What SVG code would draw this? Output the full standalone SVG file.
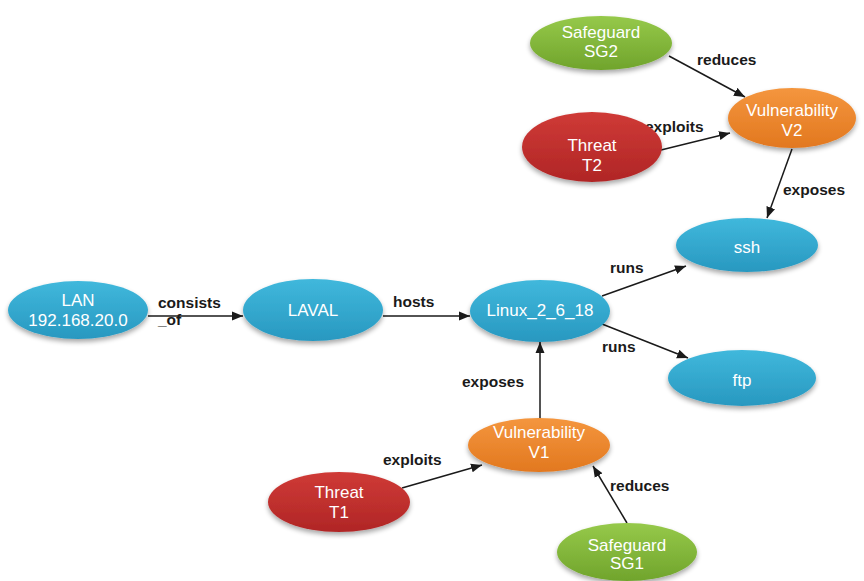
<svg xmlns="http://www.w3.org/2000/svg" width="864" height="581" viewBox="0 0 864 581">
<defs>
<linearGradient id="gBlue" x1="0" y1="0" x2="0" y2="1"><stop offset="0" stop-color="#40b8dc"/><stop offset="1" stop-color="#2898c0"/></linearGradient>
<linearGradient id="gGreen" x1="0" y1="0" x2="0" y2="1"><stop offset="0" stop-color="#96c94a"/><stop offset="1" stop-color="#70a42c"/></linearGradient>
<linearGradient id="gRed" x1="0" y1="0" x2="0" y2="1"><stop offset="0" stop-color="#cf3a36"/><stop offset="1" stop-color="#b02626"/></linearGradient>
<linearGradient id="gOrange" x1="0" y1="0" x2="0" y2="1"><stop offset="0" stop-color="#f4963e"/><stop offset="1" stop-color="#e2781f"/></linearGradient>
<filter id="sh" x="-20%" y="-20%" width="140%" height="160%"><feGaussianBlur in="SourceAlpha" stdDeviation="2.5"/><feOffset dx="0" dy="3" result="b"/><feComponentTransfer><feFuncA type="linear" slope="0.35"/></feComponentTransfer><feMerge><feMergeNode/><feMergeNode in="SourceGraphic"/></feMerge></filter>
<marker id="arr" markerUnits="userSpaceOnUse" markerWidth="12" markerHeight="10" refX="11" refY="5" orient="auto"><path d="M0,0.5 L11,5 L0,9.5 Z" fill="#1a1a1a"/></marker>
</defs>
<style>
.nt{font-family:"Liberation Sans",Arial,sans-serif;font-size:17px;fill:#ffffff;text-anchor:middle}
.lb{font-family:"Liberation Sans",Arial,sans-serif;font-size:15.5px;font-weight:bold;fill:#1a1a1a}
.ed{stroke:#1a1a1a;stroke-width:1.5;fill:none;marker-end:url(#arr)}
.blue{fill:url(#gBlue)}.green{fill:url(#gGreen)}.red{fill:url(#gRed)}.orange{fill:url(#gOrange)}
</style>
<rect width="864" height="581" fill="#ffffff"/>
<g id="connectors">
<line class="ed" x1="148" y1="316" x2="243" y2="316"/>
<line class="ed" x1="383" y1="316" x2="470" y2="316"/>
<line class="ed" x1="602" y1="296" x2="686" y2="266"/>
<line class="ed" x1="602" y1="324" x2="688" y2="358"/>
<line class="ed" x1="540" y1="419" x2="540" y2="342"/>
<line class="ed" x1="402" y1="488" x2="482" y2="465"/>
<line class="ed" x1="627" y1="523" x2="593" y2="466"/>
<line class="ed" x1="669" y1="56" x2="745" y2="97"/>
<line class="ed" x1="661" y1="150" x2="730" y2="133"/>
<line class="ed" x1="792" y1="149" x2="767" y2="218"/>
<text class="lb" x="158" y="308">consists</text>
<text class="lb" x="158" y="325">_of</text>
<text class="lb" x="393" y="307">hosts</text>
<text class="lb" x="610" y="273">runs</text>
<text class="lb" x="602" y="352">runs</text>
<text class="lb" x="462" y="387">exposes</text>
<text class="lb" x="383" y="465">exploits</text>
<text class="lb" x="610" y="491">reduces</text>
<text class="lb" x="697" y="65">reduces</text>
<text class="lb" x="645" y="132">exploits</text>
<text class="lb" x="783" y="195">exposes</text>
</g>
<g id="node-lan"><ellipse class="blue" filter="url(#sh)" cx="78" cy="310" rx="70" ry="29"/><text class="nt" x="78" y="306">LAN</text><text class="nt" x="78" y="326">192.168.20.0</text></g>
<g id="node-laval"><ellipse class="blue" filter="url(#sh)" cx="313" cy="310" rx="70" ry="31"/><text class="nt" x="313" y="316">LAVAL</text></g>
<g id="node-linux"><ellipse class="blue" filter="url(#sh)" cx="540" cy="311" rx="70" ry="31"/><text class="nt" x="540" y="316">Linux_2_6_18</text></g>
<g id="node-ssh"><ellipse class="blue" filter="url(#sh)" cx="747" cy="245" rx="71" ry="27"/><text class="nt" x="747" y="253">ssh</text></g>
<g id="node-ftp"><ellipse class="blue" filter="url(#sh)" cx="742" cy="378" rx="74" ry="28"/><text class="nt" x="742" y="386">ftp</text></g>
<g id="node-v1"><ellipse class="orange" filter="url(#sh)" cx="539" cy="445" rx="71" ry="27"/><text class="nt" x="539" y="438">Vulnerability</text><text class="nt" x="539" y="458">V1</text></g>
<g id="node-t1"><ellipse class="red" filter="url(#sh)" cx="339" cy="502" rx="71" ry="30"/><text class="nt" x="339" y="498">Threat</text><text class="nt" x="339" y="518">T1</text></g>
<g id="node-sg1"><ellipse class="green" filter="url(#sh)" cx="627" cy="552" rx="70" ry="29"/><text class="nt" x="627" y="551">Safeguard</text><text class="nt" x="627" y="569">SG1</text></g>
<g id="node-sg2"><ellipse class="green" filter="url(#sh)" cx="601" cy="43" rx="71" ry="27"/><text class="nt" x="601" y="38">Safeguard</text><text class="nt" x="601" y="57">SG2</text></g>
<g id="node-t2"><ellipse class="red" filter="url(#sh)" cx="592" cy="147" rx="70" ry="35"/><text class="nt" x="592" y="151">Threat</text><text class="nt" x="592" y="171">T2</text></g>
<g id="node-v2"><ellipse class="orange" filter="url(#sh)" cx="792" cy="118" rx="64" ry="30"/><text class="nt" x="792" y="116">Vulnerability</text><text class="nt" x="792" y="136">V2</text></g>
</svg>
